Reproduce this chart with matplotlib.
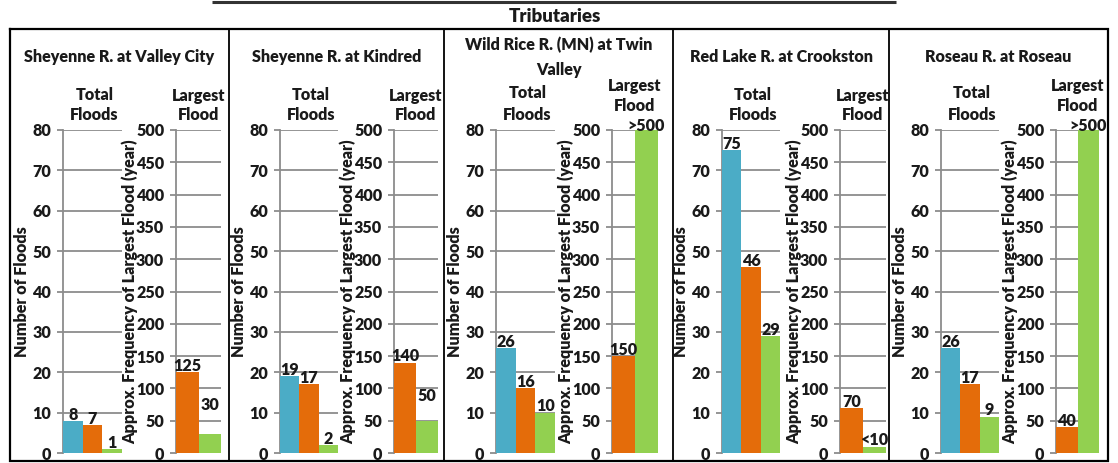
import matplotlib
matplotlib.use("Agg")
import matplotlib.pyplot as plt

# ---- data -------------------------------------------------------------
stations = [
    "Sheyenne R. at Valley City",
    "Sheyenne R. at Kindred",
    "Wild Rice R. (MN) at Twin\nValley",
    "Red Lake R. at Crookston",
    "Roseau R. at Roseau",
]
total_floods = [
    [8, 7, 1],
    [19, 17, 2],
    [26, 16, 10],
    [75, 46, 29],
    [26, 17, 9],
]
largest_flood = [
    [125, 30],
    [140, 50],
    [150, 500],
    [70, 10],
    [40, 500],
]
largest_qualifier = [
    ["", ""],
    ["", ""],
    ["", ">"],
    ["", "<"],
    ["", ">"],
]
count_ticks = [0, 10, 20, 30, 40, 50, 60, 70, 80]
freq_ticks = [0, 50, 100, 150, 200, 250, 300, 350, 400, 450, 500]

# ---- style -------------------------------------------------------------
BLUE, ORANGE, GREEN = "#4BACC6", "#E46C0A", "#92D050"
GRID = "#8C8C8C"
INK = "#1A1A1A"
total_colors = [BLUE, ORANGE, GREEN]
largest_colors = [ORANGE, GREEN]

WEIGHT = "heavy"
plt.rcParams["font.family"] = ["Lato", "DejaVu Sans"]
plt.rcParams["font.weight"] = WEIGHT
plt.rcParams["text.color"] = INK
FS = 11.6

W, H = 1118, 463
DPI = 100
fig = plt.figure(figsize=(W / DPI, H / DPI), dpi=DPI)

# pixel layout of the panel grid
panel_edges = [10, 229, 444, 673, 889, 1108]
box_top, box_bottom = 29, 461
plot_top, plot_bottom = 130, 453
left_axes_px = [(63, 122), (280, 338), (496, 555), (722, 780), (941, 999)]
right_axes_px = [(176, 221), (394, 438), (612, 658), (840, 886), (1056, 1099)]
# raised header rows for panels whose largest-flood bar reaches the top
raised = [False, False, True, False, True]
# value-label offsets (points) above the bar tops
BASE_OFFSET = -1.3
label_lift = [[0, 16], [0, 13], [0, -1.5], [0, 0], [0, -1.5]]

# overlay canvas in pixel coordinates for frames and headings
canvas = fig.add_axes([0, 0, 1, 1], zorder=0)
canvas.set_xlim(0, W)
canvas.set_ylim(H, 0)
canvas.axis("off")

canvas.plot([212, 896], [1.5, 1.5], color="#333333", lw=2.2, solid_capstyle="butt")
canvas.text(555, 17, "Tributaries", ha="center", va="center", fontsize=13.5)
canvas.plot([panel_edges[0], panel_edges[-1], panel_edges[-1], panel_edges[0], panel_edges[0]],
            [box_top, box_top, box_bottom, box_bottom, box_top],
            color="black", lw=1.6, solid_joinstyle="miter")
for xe in panel_edges[1:-1]:
    canvas.plot([xe, xe], [box_top, box_bottom], color="black", lw=1.3)


def px_axes(x0, x1):
    return fig.add_axes([x0 / W, 1 - plot_bottom / H, (x1 - x0) / W,
                         (plot_bottom - plot_top) / H], zorder=2)


def style_axes(ax, ticks, top):
    ax.set_ylim(0, top)
    ax.set_yticks(ticks)
    ax.set_xticks([])
    ax.set_facecolor("none")
    for side in ("top", "right", "bottom"):
        ax.spines[side].set_visible(False)
    ax.spines["left"].set_color(GRID)
    ax.spines["left"].set_linewidth(1.3)
    ax.grid(axis="y", color=GRID, lw=1.3)
    ax.set_axisbelow(True)
    ax.tick_params(axis="y", length=4.5, width=1.3, color=GRID, pad=4,
                   labelsize=FS, labelcolor=INK)
    for t in ax.get_yticklabels():
        t.set_fontweight(WEIGHT)


for i, name in enumerate(stations):
    # station heading
    cx = (panel_edges[i] + panel_edges[i + 1]) / 2
    lines = name.split("\n")
    if len(lines) == 1:
        canvas.text(cx, 57, lines[0], ha="center", va="center", fontsize=FS)
    else:
        canvas.text(cx, 45, lines[0], ha="center", va="center", fontsize=FS)
        canvas.text(cx, 70, lines[1], ha="center", va="center", fontsize=FS)

    # total floods
    lx0, lx1 = left_axes_px[i]
    ax = px_axes(lx0, lx1)
    xs = list(range(len(total_floods[i])))
    ax.bar(xs, total_floods[i], width=1.0, color=total_colors, zorder=3)
    ax.set_xlim(-0.5, len(xs) - 0.5)
    style_axes(ax, count_ticks, 80)
    for x, v in zip(xs, total_floods[i]):
        ax.annotate(str(v), (x, v), xytext=(0, BASE_OFFSET), textcoords="offset points",
                    ha="center", va="bottom", fontsize=FS, annotation_clip=False)
    tcx = (lx0 + lx1) / 2 + 2
    if raised[i]:
        canvas.text(tcx, 93, "Total", ha="center", va="center", fontsize=FS)
    else:
        canvas.text(tcx, 95, "Total", ha="center", va="center", fontsize=FS)
    canvas.text(tcx, 115, "Floods", ha="center", va="center", fontsize=FS)
    canvas.text(lx0 - 41, (plot_top + plot_bottom) / 2, "Number of Floods",
                rotation=90, ha="center", va="center", fontsize=FS)

    # largest flood frequency
    rx0, rx1 = right_axes_px[i]
    ax2 = px_axes(rx0, rx1)
    xs2 = list(range(len(largest_flood[i])))
    ax2.bar(xs2, largest_flood[i], width=1.0, color=largest_colors, zorder=3)
    ax2.set_xlim(-0.5, len(xs2) - 0.5)
    style_axes(ax2, freq_ticks, 500)
    for x, v, q, lift in zip(xs2, largest_flood[i], largest_qualifier[i], label_lift[i]):
        ax2.annotate(q + str(v), (x, v), xytext=(0, BASE_OFFSET + lift),
                     textcoords="offset points", ha="center", va="bottom",
                     fontsize=FS, annotation_clip=False)
    rcx = (rx0 + rx1) / 2
    if raised[i]:
        canvas.text(rcx, 86, "Largest", ha="center", va="center", fontsize=FS)
        canvas.text(rcx, 106, "Flood", ha="center", va="center", fontsize=FS)
    else:
        canvas.text(rcx, 96, "Largest", ha="center", va="center", fontsize=FS)
        canvas.text(rcx, 115, "Flood", ha="center", va="center", fontsize=FS)
    canvas.text(rx0 - 46, (plot_top + plot_bottom) / 2,
                "Approx. Frequency of Largest Flood (year)",
                rotation=90, ha="center", va="center", fontsize=FS)

fig.savefig("out.png", dpi=DPI, facecolor="white")
